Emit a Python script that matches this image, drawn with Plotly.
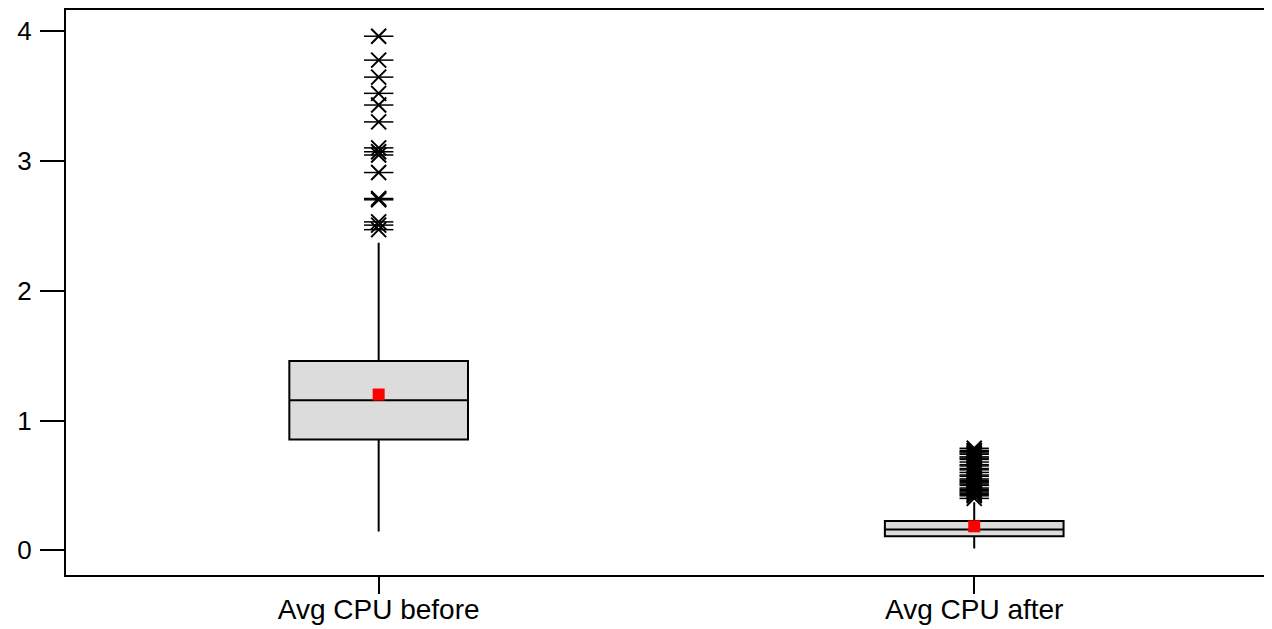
import plotly.graph_objects as go

categories = ["Avg CPU before", "Avg CPU after"]
q1 = [0.853, 0.108]
median = [1.156, 0.160]
q3 = [1.459, 0.226]
lower_whisker = [0.146, 0.015]
upper_whisker = [2.37, 0.37]
means = [1.20, 0.185]
outliers_before = [3.96, 3.776, 3.645, 3.52, 3.43, 3.30, 3.10, 3.07, 3.045,
                   2.91, 2.71, 2.70, 2.53, 2.505, 2.47]
outliers_after = [0.40, 0.42, 0.43, 0.44, 0.45, 0.46, 0.47, 0.48, 0.50, 0.51,
                  0.52, 0.53, 0.54, 0.55, 0.57, 0.58, 0.60, 0.62, 0.63, 0.65,
                  0.66, 0.68, 0.70, 0.71, 0.72, 0.74, 0.75, 0.76, 0.77, 0.786]
y_ticks = [0, 1, 2, 3, 4]

xpos = list(range(len(categories)))

fig = go.Figure()
fig.add_trace(go.Box(
    x=xpos, q1=q1, median=median, q3=q3,
    lowerfence=lower_whisker, upperfence=upper_whisker,
    width=0.3, whiskerwidth=0,
    fillcolor="#dcdcdc", line=dict(color="black", width=2),
    boxpoints=False, showlegend=False, hoverinfo="skip"))

ox = [0] * len(outliers_before) + [1] * len(outliers_after)
oy = outliers_before + outliers_after
fig.add_trace(go.Scatter(
    x=ox, y=oy, mode="markers", showlegend=False,
    marker=dict(symbol="x-thin-open", size=15, color="black",
                line=dict(color="black", width=2))))
fig.add_trace(go.Scatter(
    x=ox, y=oy, mode="markers", showlegend=False,
    marker=dict(symbol="line-ew-open", size=21, color="black",
                line=dict(color="black", width=1.5))))
fig.add_trace(go.Scatter(
    x=xpos, y=means, mode="markers", showlegend=False,
    marker=dict(symbol="square", size=12, color="red",
                line=dict(width=0))))

# page body has an 8px default margin; compensate so the figure fills the window
fig.update_layout(
    width=1264, height=621,
    margin=dict(l=58, r=0, t=2, b=54, autoexpand=False),
    paper_bgcolor="white", plot_bgcolor="white",
    font=dict(family="Liberation Sans, Arial, sans-serif", color="black"),
    xaxis=dict(range=[-0.525, 1.5], tickvals=xpos, ticktext=categories,
               automargin=False,
               showgrid=False, zeroline=False, showline=True, mirror=True,
               linecolor="black", linewidth=2, ticks="outside", ticklen=17,
               tickwidth=2, tickcolor="black", ticklabelstandoff=-9,
               tickfont=dict(size=28)),
    yaxis=dict(range=[-0.19, 4.162], tickvals=y_ticks, automargin=False,
               showgrid=False, zeroline=False, showline=True,
               linecolor="black", linewidth=2, ticks="outside", ticklen=24,
               tickwidth=2, tickcolor="black", ticklabelstandoff=3,
               tickfont=dict(size=26)),
)

fig.write_html("out.html")
